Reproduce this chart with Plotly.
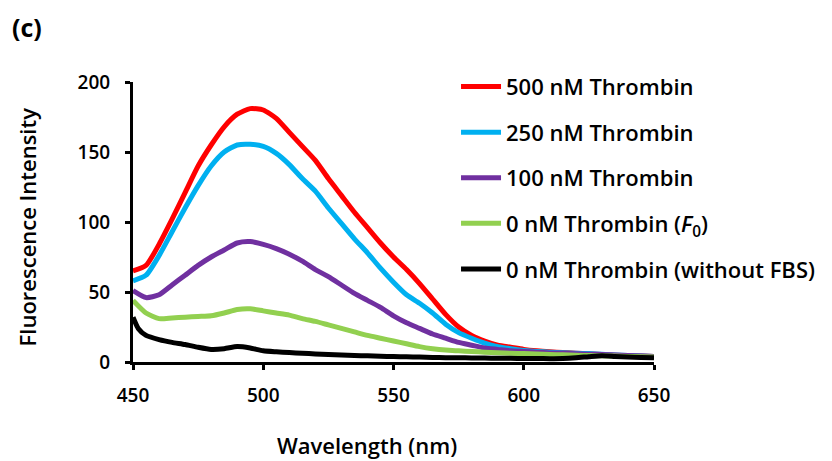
import plotly.graph_objects as go

wavelength = [450, 455, 460, 465, 470, 475, 480, 485, 490, 495, 500, 505, 510, 515, 520,
              525, 530, 535, 540, 545, 550, 555, 560, 565, 570, 575, 580, 585, 590, 595,
              600, 605, 610, 615, 620, 625, 630, 635, 640, 645, 650]

thrombin_500 = [65, 69, 84, 102, 121, 140, 155, 168, 177, 181, 180, 174, 164, 154, 144,
                131, 119, 107, 96, 85, 75, 66, 56, 45, 34, 25, 19, 15, 12, 10.5,
                9, 8, 7.3, 6.8, 6.3, 5.8, 5.3, 4.9, 4.5, 4.2, 4]

thrombin_250 = [58, 62, 76, 93, 110, 126, 140, 150, 155, 155.5, 154, 149, 141, 131, 122,
                110, 99, 88, 78, 67, 57, 48, 42, 35, 27, 21, 17, 13.5, 11, 9.5,
                8.3, 7.5, 7, 6.6, 6.3, 6, 5.5, 5, 4.6, 4.2, 4]

thrombin_100 = [51, 46, 48, 55, 62, 69, 75, 80, 85, 86, 84, 81, 77, 72, 66,
                61, 55, 49, 44, 39, 33, 28, 24, 20, 17, 14, 12, 10, 9, 8,
                7.5, 7, 6.5, 6.2, 5.9, 5.6, 5.3, 5, 4.6, 4.3, 4]

thrombin_0 = [44, 35, 31, 31.5, 32, 32.5, 33, 35, 37.5, 38, 36.5, 35, 33.5, 31, 29,
              26.5, 24, 21.5, 19, 17, 15, 13, 11, 9.5, 8.5, 8, 7.5, 7, 6.6, 6.2,
              6, 5.7, 5.4, 5.1, 4.8, 4.6, 4.4, 4.2, 4, 3.8, 3.6]

wavelength_nofbs = [450, 452, 455, 460, 465, 470, 475, 480, 485, 490, 495, 500, 505, 510,
                    515, 520, 525, 530, 535, 540, 545, 550, 555, 560, 565, 570, 575, 580,
                    585, 590, 595, 600, 605, 610, 615, 620, 625, 630, 635, 640, 645, 650]
thrombin_0_nofbs = [32, 24, 19, 16, 14, 12.5, 10.5, 9, 9.5, 11, 10, 8, 7.3, 6.8,
                    6.2, 5.8, 5.4, 5, 4.7, 4.4, 4.1, 3.9, 3.7, 3.5, 3.3, 3.1, 3, 2.9,
                    2.8, 2.7, 2.6, 2.5, 2.5, 2.4, 2.5, 3, 3.8, 4.5, 4, 3.5, 3.2, 3]

series_names = ["500 nM Thrombin", "250 nM Thrombin", "100 nM Thrombin",
                "0 nM Thrombin (<i>F</i><sub>0</sub>)", "0 nM Thrombin (without FBS)"]
series_colors = ["#FF0000", "#00B0F0", "#7030A0", "#92D050", "#000000"]
series_x = [wavelength, wavelength, wavelength, wavelength, wavelength_nofbs]
series_y = [thrombin_500, thrombin_250, thrombin_100, thrombin_0, thrombin_0_nofbs]

FONT = "Open Sans"

fig = go.Figure()
for i, (name, color, xs, ys) in enumerate(zip(series_names, series_colors, series_x, series_y)):
    fig.add_trace(go.Scatter(
        x=xs, y=ys, mode="lines", name=name, legendgroup=f"g{i}",
        line=dict(color=color, width=5, shape="spline", smoothing=0.6),
    ))

axis_common = dict(
    showline=True, linecolor="black", linewidth=3,
    ticks="outside", ticklen=5, tickwidth=3, tickcolor="black",
    showgrid=False, zeroline=False,
    tickfont=dict(family=FONT, size=19, color="black", weight=600),
)

fig.update_layout(
    width=832, height=461,
    margin=dict(l=133, r=176, t=82, b=99),
    paper_bgcolor="white", plot_bgcolor="white",
    showlegend=True,
    legend=dict(
        x=0.62, y=1.058, xanchor="left", yanchor="top",
        traceorder="grouped", tracegroupgap=14, maxheight=1000,
        font=dict(family=FONT, size=22, color="black", weight=600),
        itemwidth=40, bgcolor="rgba(0,0,0,0)",
    ),
    xaxis=dict(
        range=[450, 650], tickvals=[450, 500, 550, 600, 650],
        ticklabelstandoff=9,
        **axis_common,
    ),
    yaxis=dict(
        range=[0, 200], tickvals=[0, 50, 100, 150, 200],
        ticklabelstandoff=11,
        **axis_common,
    ),
    annotations=[
        dict(text="(c)", xref="paper", yref="paper", x=-0.237, y=1.196,
             xanchor="left", yanchor="middle", showarrow=False,
             font=dict(family=FONT, size=25, color="black", weight=700)),
        dict(text="Wavelength (nm)", xref="paper", yref="paper", x=0.449, y=-0.296,
             xanchor="center", yanchor="middle", showarrow=False,
             font=dict(family=FONT, size=22, color="black", weight=600)),
        dict(text="Fluorescence Intensity", xref="paper", yref="paper", x=-0.2027, y=0.482,
             xanchor="center", yanchor="middle", showarrow=False, textangle=-90,
             font=dict(family=FONT, size=22, color="black", weight=600)),
    ],
)

fig.write_html("out.html")
